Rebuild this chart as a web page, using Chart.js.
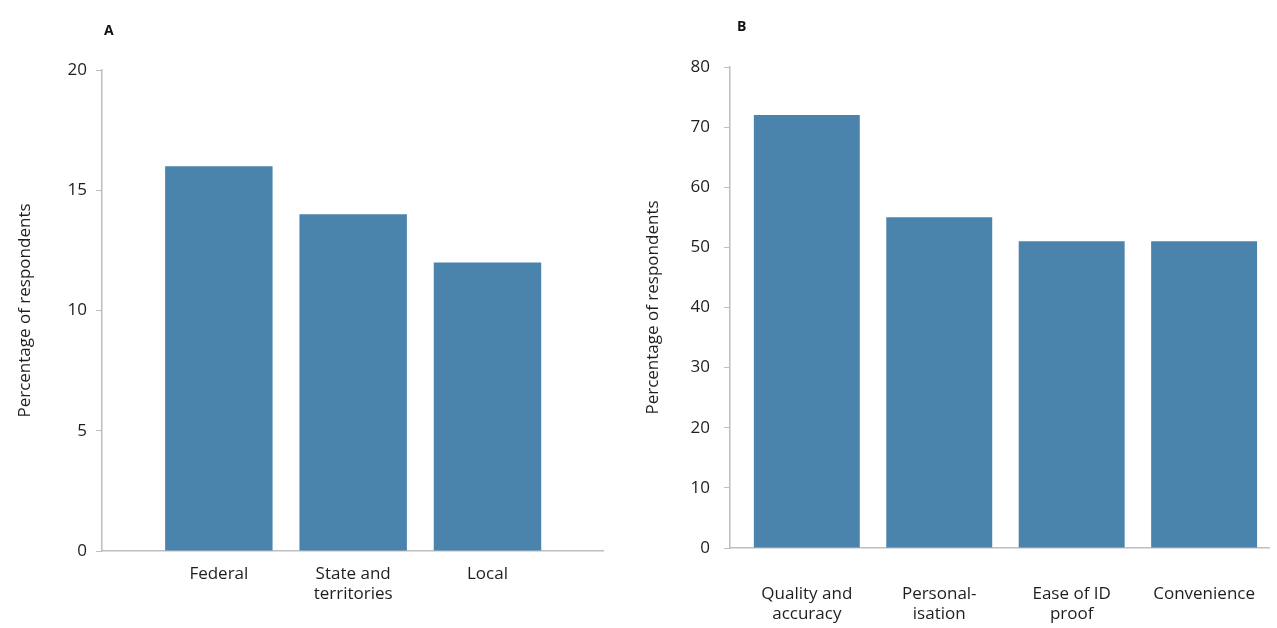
<!DOCTYPE html>
<html>
<head>
<meta charset="utf-8">
<script src="https://cdn.jsdelivr.net/npm/chart.js@4/dist/chart.umd.min.js"></script>
<style>
  body { margin: 0; background: #fff; }
  #wrap { position: relative; width: 1277px; height: 628px; }
  .panel { position: absolute; top: 0; height: 628px; }
  .tag { position: absolute; font: bold 14px "Open Sans", sans-serif; color: #111; }
</style>
</head>
<body>
<div id="wrap">
  <div class="panel" style="left:0;width:630px"><canvas id="chartA"></canvas></div>
  <div class="panel" style="left:630px;width:647px"><canvas id="chartB"></canvas></div>
  <div class="tag" style="left:104px;top:20px">A</div>
  <div class="tag" style="left:737px;top:16px">B</div>
</div>
<script>
const barColor =  'rgb(74, 132, 172)'
const axisColor = 'rgb(190, 190, 190)'
const textColor = 'rgb(30, 30, 30)'

// Panel A - level of government
const levelLabels = [['Federal'], ['State and', 'territories'], ['Local']]
const levelValues = [16, 14, 12]
const levelTicks = [0, 5, 10, 15, 20]

// Panel B - reasons
const reasonLabels = [['Quality and', 'accuracy'], ['Personal-', 'isation'], ['Ease of ID', 'proof'], ['Convenience']]
const reasonValues = [72, 55, 51, 51]
const reasonTicks = [0, 10, 20, 30, 40, 50, 60, 70, 80]

Chart.defaults.font.family = '"Open Sans", sans-serif'
Chart.defaults.font.size = 17
Chart.defaults.color = textColor

function makeChart(id, labels, values, yTicks, xMin, xMax, pad, xHeight, xPad, yPad) {
    const ctx = document.getElementById(id)
    return new Chart(ctx, {
        type: 'bar',
        data: {
            datasets: [{
                data: values.map((v, i) => ({x: i, y: v})),
                backgroundColor: barColor,
                borderWidth: 0,
                categoryPercentage: 1,
                barPercentage: 0.8,
            }]
        },
        options: {
            responsive: true,
            maintainAspectRatio: false,
            animation: false,
            layout: {padding: pad},
            plugins: {
                legend: {display: false},
                tooltip: {enabled: false},
            },
            scales: {
                x: {
                    type: 'linear',
                    offset: false,
                    min: xMin,
                    max: xMax,
                    afterBuildTicks: (scale) => {
                        scale.ticks = labels.map((l, i) => ({value: i}))
                    },
                    afterFit: (scale) => {
                        scale.height = xHeight
                        //labels fit inside the panel anyway
                        scale.paddingLeft = 0
                        scale.paddingRight = 0
                    },
                    ticks: {
                        padding: xPad,
                        maxRotation: 0,
                        autoSkip: false,
                        callback: (value) => labels[value],
                    },
                    grid: {display: false},
                    border: {display: true, color: axisColor, width: 1.5},
                },
                y: {
                    min: yTicks[0],
                    max: yTicks[yTicks.length - 1],
                    afterBuildTicks: (scale) => {
                        scale.ticks = yTicks.map(v => ({value: v}))
                    },
                    afterFit: (scale) => { scale.width = 90 },
                    ticks: {padding: yPad},
                    grid: {
                        drawOnChartArea: false,
                        drawTicks: true,
                        tickLength: 6,
                        color: axisColor,
                    },
                    border: {display: true, color: axisColor, width: 1.5},
                    title: {
                        display: true,
                        text: 'Percentage of respondents',
                        padding: {top: 3, bottom: 4},
                    },
                }
            }
        }
    })
}

makeChart('chartA', levelLabels, levelValues, levelTicks, -0.87, 2.86,
    {left: 12, right: 27, top: 70, bottom: 0}, 77, 5, 9)
makeChart('chartB', reasonLabels, reasonValues, reasonTicks, -0.58, 3.49,
    {left: 10, right: 8, top: 67, bottom: 0}, 80, 28, 14)
</script>
</body>
</html>
